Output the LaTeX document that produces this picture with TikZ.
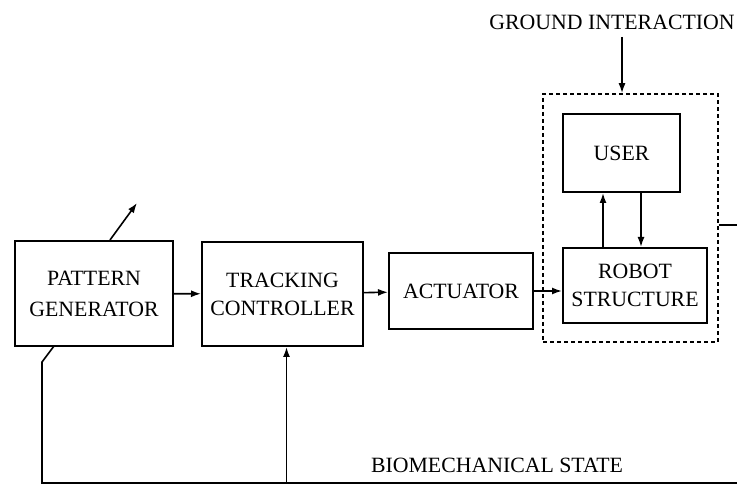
\documentclass[tikz,border=0pt]{standalone}
\usepackage{fontspec}
\setmainfont{Liberation Serif}
\usepackage{tikz}
\usetikzlibrary{arrows.meta}
\tikzset{blk/.style={draw, line width=1pt, align=center, inner sep=0pt, font=\fontsize{10.9}{14}\selectfont}}
\tikzset{sig/.style={line width=0.8pt, -{Latex[length=5pt,width=3.5pt]}}}
\tikzset{wire/.style={line width=0.8pt}}
\tikzset{lbl/.style={inner sep=0pt, font=\fontsize{10.9}{12}\selectfont}}

\begin{document}
\begin{tikzpicture}[x=0.5pt, y=-0.5pt]
\useasboundingbox (0,0) rectangle (737,485);
\node[blk, minimum width=79pt, minimum height=52.5pt, font=\fontsize{10.9}{15.5}\selectfont] (pg) at (94,293.5) {PATTERN\\GENERATOR};
\node[blk, minimum width=80.5pt, minimum height=52pt] (tc) at (282.5,294) {TRACKING\\CONTROLLER};
\node[blk, minimum width=72pt, minimum height=38pt] (act) at (461,291) {ACTUATOR};
\node[blk, minimum width=58.5pt, minimum height=39pt] (user) at (621.5,153) {USER};
\node[blk, minimum width=72pt, minimum height=37.5pt] (robot) at (635,285.5) {ROBOT\\STRUCTURE};
\node[draw, line width=0.8pt, dash pattern=on 2pt off 1.5pt, minimum width=87.5pt, minimum height=124pt] (sys) at (630.5,218) {};
\node[lbl] (gi) at (612,22) {GROUND INTERACTION};
\node[lbl] (bio) at (497,465) {BIOMECHANICAL STATE};
\coordinate (gnd) at (622,37);
\coordinate (out) at (737,225);
\coordinate (fb) at (42,483);
\coordinate (fbend) at (737,483);
\coordinate (sw) at (42,362);
\coordinate (swtop) at (54,346);
\coordinate (param) at (137,203);
\draw[sig] (pg) -- (tc);
\draw[sig] (tc) -- (act);
\draw[sig] (act.east) -- (act.east -| robot.west);
\draw[sig] (gnd) -- (gnd |- sys.north);
\draw[sig] ([xshift=-16pt]robot.north) -- ([xshift=-16pt]robot.north |- user.south);
\draw[sig] ([xshift=3pt]robot.north |- user.south) -- ([xshift=3pt]robot.north);
\draw[wire] ([yshift=-3.5pt]sys.east) -- (out);
\draw[wire] (fbend) -- (fb) -- (sw) -- (swtop);
\draw[sig] ([xshift=2pt]tc.south |- fb) -- ([xshift=2pt]tc.south);
\draw[sig] ([xshift=8pt]pg.north) -- (param);
\end{tikzpicture}
\end{document}
